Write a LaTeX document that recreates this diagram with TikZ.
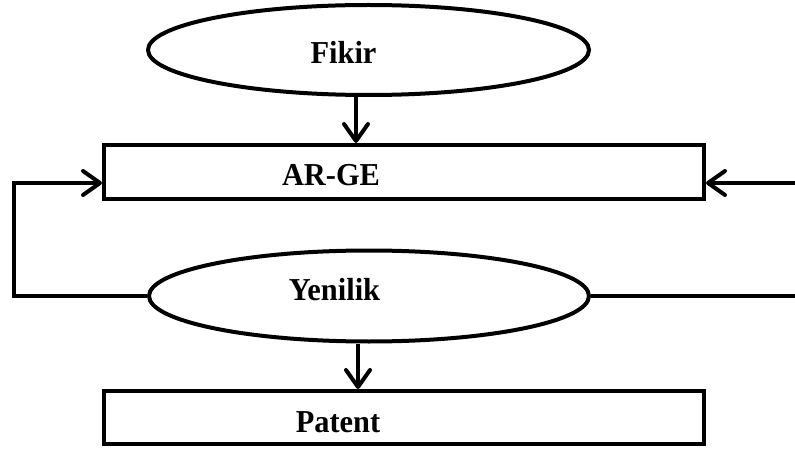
\documentclass[tikz,border=0pt]{standalone}
\usepackage{fontspec}
\setmainfont{Liberation Serif}
\usetikzlibrary{shapes.geometric,arrows.meta}

\newcommand{\tallbold}[1]{\scalebox{1}[1.05]{\fontsize{30.4}{31}\selectfont\bfseries #1}}

\tikzset{
  oval/.style={draw, ellipse, line width=4pt, inner sep=0pt},
  boxnode/.style={draw, rectangle, line width=4pt, inner sep=0pt},
  lbl/.style={inner sep=0pt, anchor=base},
  link/.style={line width=4pt},
  arr/.style={link, -{Straight Barb[length=17pt, width=24pt, round]}},
}

\begin{document}
\begin{tikzpicture}[x=1pt, y=-1pt]
  \useasboundingbox (0,0) rectangle (795,449);

  % shapes
  \node[oval, minimum width=441pt, minimum height=90pt] (fikir) at (368.5,50) {};
  \node[boxnode, minimum width=600pt, minimum height=54pt] (arge) at (404,172) {};
  \node[oval, minimum width=440pt, minimum height=91pt] (yenilik) at (369,296) {};
  \node[boxnode, minimum width=600pt, minimum height=53pt] (patent) at (404,417.5) {};

  % labels
  \node[lbl] (tfikir) at (343.5,64) {\tallbold{Fikir}};
  \node[lbl] (targe) at (331,186) {\tallbold{AR-GE}};
  \node[lbl] (tyenilik) at (334.5,300.5) {\tallbold{Yenilik}};
  \node[lbl] (tpatent) at (338,432) {\tallbold{Patent}};

  % helper points for the connectors
  \coordinate (xa) at (356,0);
  \coordinate (xb) at (358,0);
  \coordinate (lft) at (14,183);
  \coordinate (rgt) at (797,183);
  \coordinate (rgtlow) at (797,297);

  % connectors
  \draw[arr] (fikir.south -| xa) -- (arge.north -| xa);
  \draw[arr] (yenilik.west) -| (lft) -- (arge.west |- lft);
  \draw[link] (yenilik.east) -- (rgtlow |- yenilik.east);
  \draw[arr] (rgt) -- (arge.east |- rgt);
  \draw[arr] (yenilik.south -| xb) -- (patent.north -| xb);
\end{tikzpicture}
\end{document}
